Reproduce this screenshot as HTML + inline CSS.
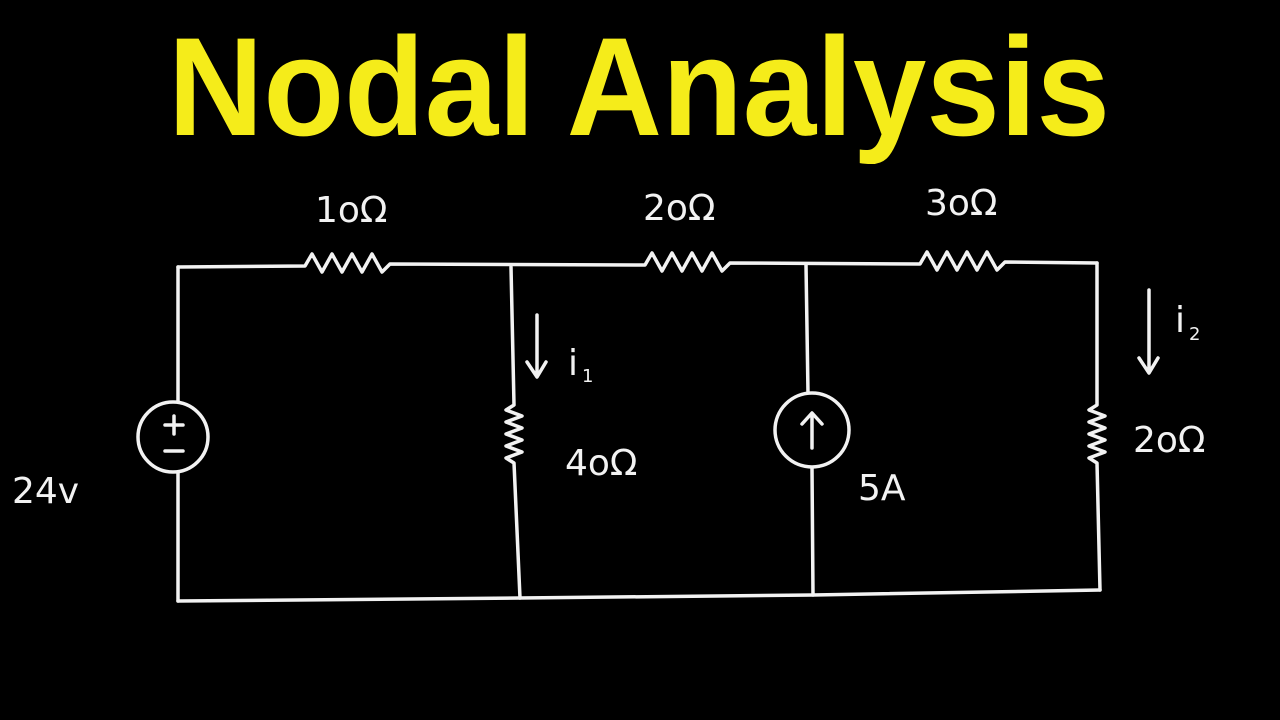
<!DOCTYPE html>
<html><head><style>html,body{margin:0;padding:0;background:#000;width:1280px;height:720px;overflow:hidden}</style></head>
<body>
<svg width="1280" height="720" viewBox="0 0 1280 720" xmlns="http://www.w3.org/2000/svg">
<rect width="1280" height="720" fill="#000"/>
<text x="168" y="135" font-family="Liberation Sans, sans-serif" font-weight="bold" font-size="140" fill="#f5ec1a" textLength="942" lengthAdjust="spacingAndGlyphs">Nodal  Analysis</text>
<g fill="none" stroke="#f2f2f2" stroke-width="3.5" stroke-linecap="round" stroke-linejoin="round">
<path d="M178 267 L305 266 l7 -12 l10 18 l10 -18 l10 18 l10 -18 l10 18 l10 -18 l10 18 l8 -8 L645 265 l7 -12 l10 18 l10 -18 l10 18 l10 -18 l10 18 l10 -18 l10 18 l8 -8 L920 264 l7 -12 l10 18 l10 -18 l10 18 l10 -18 l10 18 l10 -18 l10 18 l8 -8 L1097 263"/>
<path d="M178 267 L178 402 M178 472 L178 601"/>
<circle cx="173" cy="437" r="35"/>
<path d="M165 425 h18 M174 416 v18 M165 451 h18"/>
<path d="M511 267 L514 405 l-8 5 l16 6 l-16 6 l16 6 l-16 6 l16 6 l-16 6 l16 6 l-16 6 l8 5 L520 598"/>
<path d="M537 315 L537 375 M527 362 L537 377 L546 362"/>
<path d="M806 265 L808 393 M812 468 L813 595"/>
<circle cx="812" cy="430" r="37"/>
<path d="M812 448 L812 414 M802 424 L812 413 L822 424"/>
<path d="M1097 263 L1097 405 l-8 5 l16 6 l-16 6 l16 6 l-16 6 l16 6 l-16 6 l16 6 l-16 6 l8 5 L1100 590"/>
<path d="M1149 290 L1149 372 M1139 358 L1149 373 L1158 358"/>
<path d="M178 601 L520 598 L813 595 L1100 590"/>
</g>
<g font-family="DejaVu Sans, sans-serif" fill="#f2f2f2" font-size="36">
<text x="315" y="222">1oΩ</text>
<text x="643" y="220">2oΩ</text>
<text x="925" y="215">3oΩ</text>
<text x="565" y="475">4oΩ</text>
<text x="1133" y="452">2oΩ</text>
<text x="858" y="500">5A</text>
<text x="12" y="503">24v</text>
<text x="568" y="375">i</text>
<text x="582" y="382" font-size="18">1</text>
<text x="1175" y="332">i</text>
<text x="1189" y="340" font-size="18">2</text>
</g>
</svg>
</body></html>
